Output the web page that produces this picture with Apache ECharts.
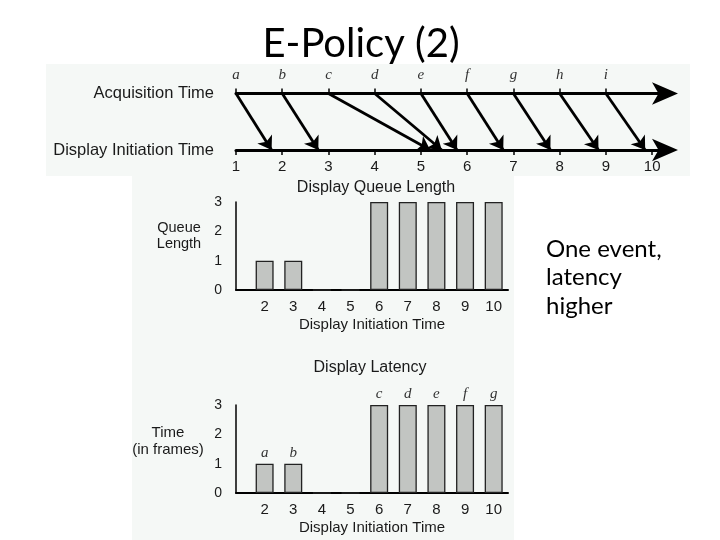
<!DOCTYPE html>
<html><head><meta charset="utf-8">
<script src="https://cdn.jsdelivr.net/npm/echarts/dist/echarts.min.js"></script>
<style>html,body{margin:0;padding:0;background:#fff}#c{width:720px;height:540px}</style>
</head><body><div id="c"></div>
<script>
// ---- data ----
const acqLabels = ['a','b','c','d','e','f','g','h','i'];
const acqTimes = [1,2,3,4,5,6,7,8,9];
const displayTicks = [1,2,3,4,5,6,7,8,9,10];
const displayTimes = [1.77,2.78,5.2,5.45,5.78,6.78,7.8,8.84,9.85];
const rowLabels = ['Display Initiation Time','Acquisition Time'];
const frames = [2,3,4,5,6,7,8,9,10];
const queueLength = [1,1,0,0,3,3,3,3,3];
const latency = [1,1,0,0,3,3,3,3,3];
const latencyLabels = ['a','b','','','c','d','e','f','g'];

// ---- styles ----
const sans = 'Liberation Sans';
const serif = 'Liberation Serif';
const ink = '#1a1a1a';
const bgPanel = '#f5f8f6';
const intFmt = v => (Number.isInteger(v) && v >= 2 && v <= 10) ? String(v) : '';

const timelineAxis = (pos, ticks, fmt, labelStyle) => ({
  gridIndex: 0, type: 'value', position: pos, min: 1, max: 10.3, interval: 1,
  axisLine: {show: true, onZero: false, symbol: ['none','arrow'], symbolSize: [17,26], symbolOffset: [0, 12],
             lineStyle: {color:'#000', width:3}},
  axisTick: {show: true, length: 5, customValues: ticks, lineStyle: {color:'#000', width:1.5}},
  axisLabel: Object.assign({formatter: fmt, customValues: ticks}, labelStyle),
  splitLine: {show: false}
});
const barXAxis = (g) => ({
  gridIndex: g, type: 'value', min: 1, max: 10.5, interval: 1,
  axisLine: {show: true, onZero: false, lineStyle: {color:'#000', width:2}},
  axisTick: {show: false}, splitLine: {show: false},
  axisLabel: {margin: 9, fontFamily: sans, fontSize: 15, color: ink, formatter: intFmt},
  name: 'Display Initiation Time', nameLocation: 'middle', nameGap: 27,
  nameTextStyle: {fontFamily: sans, fontSize: 15, color: ink}
});
const barYAxis = (g) => ({
  gridIndex: g, type: 'value', min: 0, max: 3, interval: 1,
  axisLine: {show: true, lineStyle: {color:'#000', width:1.5}},
  axisTick: {show: false}, splitLine: {show: false},
  axisLabel: {margin: 14, fontFamily: sans, fontSize: 14, color: ink}
});
const barStyle = {color: '#c2c5c2', borderColor: '#222', borderWidth: 1.3};

const txt = (text, x, y, font, lineHeight) => ({
  type: 'text', x: x, y: y, z: 100,
  style: {text: text, font: font, fill: ink, align: 'center', verticalAlign: 'middle', lineHeight: lineHeight}
});

const option = {
  animation: false,
  backgroundColor: '#fff',
  grid: [
    {left: 236, right: 54, top: 93.5, bottom: 390},
    {left: 236, right: 212, top: 202, bottom: 250},
    {left: 236, right: 212, top: 405, bottom: 47}
  ],
  xAxis: [
    timelineAxis('bottom', displayTicks, v => String(v),
      {margin: 9, fontFamily: sans, fontSize: 15, color: ink}),
    timelineAxis('top', acqTimes, v => acqLabels[acqTimes.indexOf(v)] || '',
      {margin: 11, fontFamily: serif, fontStyle: 'italic', fontSize: 15, color: '#333'}),
    barXAxis(1),
    barXAxis(2)
  ],
  yAxis: [
    {gridIndex: 0, type: 'category', data: rowLabels, boundaryGap: false,
     axisLine: {show: false}, axisTick: {show: false}, splitLine: {show: false},
     axisLabel: {margin: 22, fontFamily: sans, fontSize: 16.5, color: ink}},
    barYAxis(1),
    barYAxis(2)
  ],
  series: [
    {type: 'lines', coordinateSystem: 'cartesian2d', xAxisIndex: 0, yAxisIndex: 0,
     symbol: ['none','arrow'], symbolSize: 13,
     lineStyle: {color: '#000', width: 2.8, opacity: 1, curveness: 0},
     data: acqTimes.map((t, i) => ({coords: [[t, 1], [displayTimes[i], 0]]}))},
    {type: 'bar', xAxisIndex: 2, yAxisIndex: 1, barWidth: 18, itemStyle: barStyle,
     data: frames.map((f, i) => [f, queueLength[i]])},
    {type: 'bar', xAxisIndex: 3, yAxisIndex: 2, barWidth: 18, itemStyle: barStyle,
     label: {show: true, position: 'top', distance: 3, fontFamily: serif, fontStyle: 'italic', fontSize: 15, color: '#333',
             formatter: p => latencyLabels[p.dataIndex]},
     data: frames.map((f, i) => [f, latency[i]])}
  ],
  graphic: [
    {type: 'rect', z: -10, silent: true, shape: {x: 46, y: 64, width: 644, height: 112}, style: {fill: bgPanel}},
    {type: 'rect', z: -10, silent: true, shape: {x: 132, y: 176, width: 382, height: 364}, style: {fill: bgPanel}},
    {type: 'text', x: 361, y: 44, z: 100,
     style: {text: 'E-Policy (2)', font: '40px Lato', fill: '#000', align: 'center', verticalAlign: 'middle'}},
    txt('Display Queue Length', 376, 188, '16px "Liberation Sans"'),
    txt('Queue\nLength', 179, 236, '14.5px "Liberation Sans"', 16),
    txt('Display Latency', 370, 368, '16px "Liberation Sans"'),
    txt('Time\n(in frames)', 168, 441, '15px "Liberation Sans"', 17),
    {type: 'text', x: 546, y: 235, z: 100,
     style: {text: 'One event,\nlatency\nhigher', font: '24px Lato', fill: '#000', align: 'left', verticalAlign: 'top', lineHeight: 28.5}}
  ]
};

const chart = echarts.init(document.getElementById('c'), null, {renderer: 'canvas'});
chart.setOption(option);
</script>
</body></html>
